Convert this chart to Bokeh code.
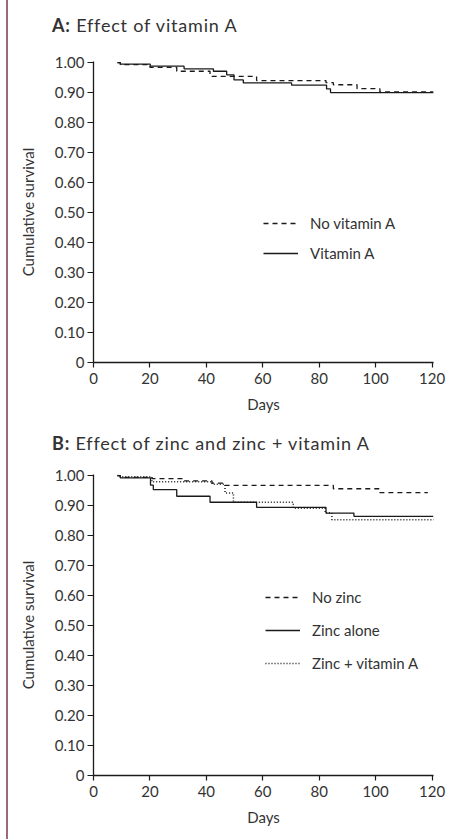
from bokeh.plotting import figure
from bokeh.models import Range1d, FixedTicker, Legend, LegendItem, Div, NumeralTickFormatter
from bokeh.layouts import column, row
from bokeh.embed import file_html
from bokeh.resources import INLINE

# ---------------- data ----------------
x_ticks = [0, 20, 40, 60, 80, 100, 120]
y_ticks = [0, 0.1, 0.2, 0.3, 0.4, 0.5, 0.6, 0.7, 0.8, 0.9, 1.0]

# Panel A: effect of vitamin A
a_days_novit = [8.5, 9.5, 20.0, 29.5, 41.3, 57.8, 82.4, 85.0, 93.4, 101.5, 120.5]
a_surv_novit = [1.0, 0.993, 0.984, 0.971, 0.954, 0.940, 0.933, 0.926, 0.913, 0.902, 0.902]
a_days_vit = [8.5, 9.5, 20.1, 32.1, 42.5, 47.2, 49.8, 53.1, 70.2, 82.6, 84.0, 120.5]
a_surv_vit = [1.0, 0.995, 0.988, 0.979, 0.971, 0.959, 0.942, 0.932, 0.925, 0.912, 0.900, 0.900]

# Panel B: effect of zinc and zinc + vitamin A
b_days_nozinc = [8.5, 9.5, 20.7, 31.9, 42.0, 46.6, 85.0, 101.5, 118.5]
b_surv_nozinc = [1.0, 0.994, 0.990, 0.982, 0.975, 0.967, 0.956, 0.943, 0.943]
b_days_zinc = [8.5, 9.5, 20.2, 21.2, 29.5, 41.3, 57.8, 82.4, 92.3, 120.5]
b_surv_zinc = [1.0, 0.992, 0.968, 0.953, 0.931, 0.911, 0.894, 0.875, 0.864, 0.864]
b_days_zincva = [8.5, 9.5, 20.7, 42.0, 46.6, 49.6, 70.8, 82.1, 84.5, 121.0]
b_surv_zincva = [1.0, 0.996, 0.979, 0.971, 0.942, 0.911, 0.891, 0.875, 0.853, 0.853]

title_a = ("A:", "Effect of vitamin A")
title_b = ("B:", "Effect of zinc and zinc + vitamin A")

FONT = "Lato"
TXT = "#333333"
LINE = "#1a1a1a"
FIG_W = 439


def make_fig(height, top, bottom):
    p = figure(width=FIG_W, height=height, x_range=Range1d(0, 120.5), y_range=Range1d(0, 1.0035),
               output_backend="svg", toolbar_location=None, margin=0,
               min_border_left=85, min_border_right=14, min_border_top=top, min_border_bottom=bottom,
               x_axis_label="Days", y_axis_label="Cumulative survival")
    p.outline_line_color = None
    p.grid.visible = False
    p.background_fill_color = "white"
    for ax in (p.xaxis[0], p.yaxis[0]):
        ax.axis_line_color = LINE
        ax.axis_line_width = 1.3
        ax.major_tick_line_color = LINE
        ax.major_tick_line_width = 1.2
        ax.minor_tick_line_color = None
        ax.major_tick_in = 0
        ax.major_label_text_font = FONT
        ax.major_label_text_font_size = "15px"
        ax.major_label_text_color = TXT
        ax.axis_label_text_font = FONT
        ax.axis_label_text_font_size = "15px"
        ax.axis_label_text_font_style = "normal"
        ax.axis_label_text_color = TXT
    p.xaxis.ticker = FixedTicker(ticks=x_ticks)
    p.xaxis.major_tick_out = 5
    p.xaxis.major_label_standoff = 5
    p.xaxis.axis_label_standoff = 8
    p.yaxis.ticker = FixedTicker(ticks=y_ticks)
    p.yaxis.formatter = NumeralTickFormatter(format="0.00")
    p.yaxis.major_label_overrides = {0: "0"}
    p.yaxis.major_tick_out = 6
    p.yaxis.major_label_standoff = 3
    p.yaxis.axis_label_standoff = 15
    return p


def make_title(parts, height, pad_top):
    return Div(text='<span style="font-weight:700">%s</span> %s' % parts,
               width=FIG_W, height=height, margin=0,
               styles={"font-family": FONT, "font-size": "18px", "color": TXT,
                       "letter-spacing": "0.8px", "line-height": "20px",
                       "padding-top": "%dpx" % pad_top, "padding-left": "44px",
                       "white-space": "nowrap"})


def make_legend(items, loc, spacing):
    return Legend(items=items, location=loc, orientation="vertical",
                  background_fill_alpha=0, border_line_alpha=0, padding=0, margin=0,
                  spacing=spacing, glyph_width=35, glyph_height=20, label_height=20,
                  label_standoff=12, label_text_font=FONT, label_text_font_size="15px",
                  label_text_color=TXT)


# ---------------- panel A ----------------
pa = make_fig(375, 16, 58)
ra1 = pa.step(a_days_novit, a_surv_novit, mode="after", line_color=LINE, line_width=1.3, line_dash="5 4")
ra2 = pa.step(a_days_vit, a_surv_vit, mode="after", line_color=LINE, line_width=1.3)
pa.add_layout(make_legend([LegendItem(label="No vitamin A", renderers=[ra1]),
                           LegendItem(label="Vitamin A", renderers=[ra2])], (170, 99), 10))

# ---------------- panel B ----------------
pb = make_fig(381, 19, 61)
rb1 = pb.step(b_days_nozinc, b_surv_nozinc, mode="after", line_color=LINE, line_width=1.3, line_dash="5 4")
rb2 = pb.step(b_days_zinc, b_surv_zinc, mode="after", line_color=LINE, line_width=1.3)
rb3 = pb.step(b_days_zincva, b_surv_zincva, mode="after", line_color=LINE, line_width=1.5, line_dash="1 2")
pb.add_layout(make_legend([LegendItem(label="No zinc", renderers=[rb1]),
                           LegendItem(label="Zinc alone", renderers=[rb2]),
                           LegendItem(label="Zinc + vitamin A", renderers=[rb3])], (172, 102), 13))

spacer = Div(text="", width=6, height=839, margin=0)
bar = Div(text="", width=2, height=839, margin=0, styles={"background-color": "#9b6a7f"})
charts = column(make_title(title_a, 45, 15), pa, make_title(title_b, 35, 13), pb, margin=0, spacing=0)
layout = row(spacer, bar, charts, margin=0, spacing=0)

open("out.html", "w").write(file_html(layout, INLINE))
